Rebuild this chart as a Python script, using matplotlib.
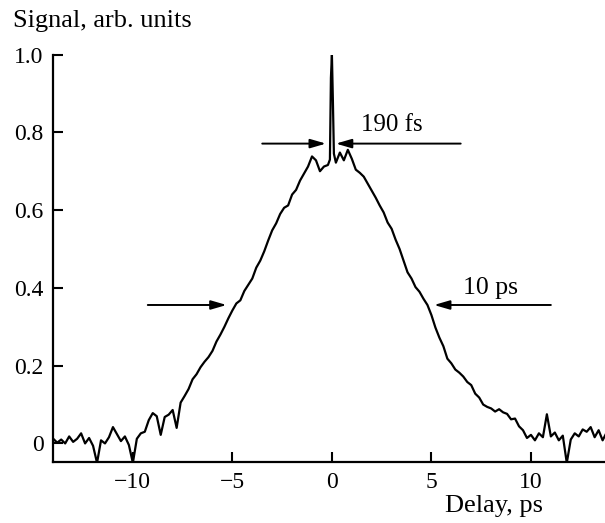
import numpy as np
import matplotlib.pyplot as plt

# delay (ps) and signal (arb. units)
delay = [-14.0, -13.8, -13.6, -13.4, -13.2, -13.0, -12.8, -12.6, -12.4, -12.2,
         -12.0, -11.8, -11.6, -11.4, -11.2, -11.0, -10.8, -10.6, -10.4, -10.2,
         -10.0, -9.8, -9.6, -9.4, -9.2, -9.0, -8.8, -8.6, -8.4, -8.2,
         -8.0, -7.8, -7.6, -7.4, -7.2, -7.0, -6.8, -6.6, -6.4, -6.2,
         -6.0, -5.8, -5.6, -5.4, -5.2, -5.0, -4.8, -4.6, -4.4, -4.2,
         -4.0, -3.8, -3.6, -3.4, -3.2, -3.0, -2.8, -2.6, -2.4, -2.2,
         -2.0, -1.8, -1.6, -1.4, -1.2, -1.0, -0.8, -0.6, -0.4, -0.2,
         -0.1, -0.05, 0.0, 0.05, 0.1,
         0.2, 0.4, 0.6, 0.8, 1.0, 1.2, 1.4, 1.6, 1.8, 2.0,
         2.2, 2.4, 2.6, 2.8, 3.0, 3.2, 3.4, 3.6, 3.8, 4.0,
         4.2, 4.4, 4.6, 4.8, 5.0, 5.2, 5.4, 5.6, 5.8, 6.0,
         6.2, 6.4, 6.6, 6.8, 7.0, 7.2, 7.4, 7.6, 7.8, 8.0,
         8.2, 8.4, 8.6, 8.8, 9.0, 9.2, 9.4, 9.6, 9.8, 10.0,
         10.2, 10.4, 10.6, 10.8, 11.0, 11.2, 11.4, 11.6, 11.8, 12.0,
         12.2, 12.4, 12.6, 12.8, 13.0, 13.2, 13.4, 13.6, 13.8]
signal = [0.012, 0.002, 0.010, 0.000, 0.018, 0.004, 0.012, 0.026, 0.000, 0.014,
          -0.006, -0.050, 0.008, 0.000, 0.016, 0.042, 0.024, 0.006, 0.018, -0.004,
          -0.050, 0.012, 0.026, 0.030, 0.060, 0.078, 0.070, 0.022, 0.068, 0.074,
          0.086, 0.040, 0.105, 0.122, 0.140, 0.165, 0.178, 0.196, 0.210, 0.222,
          0.238, 0.262, 0.280, 0.300, 0.322, 0.342, 0.360, 0.368, 0.392, 0.408,
          0.424, 0.452, 0.470, 0.494, 0.522, 0.548, 0.566, 0.590, 0.606, 0.612,
          0.640, 0.652, 0.676, 0.694, 0.712, 0.738, 0.728, 0.700, 0.712, 0.716,
          0.730, 0.940, 1.000, 0.880, 0.745,
          0.722, 0.748, 0.728, 0.755, 0.732, 0.704, 0.696, 0.686, 0.668, 0.650,
          0.632, 0.612, 0.594, 0.568, 0.552, 0.524, 0.500, 0.470, 0.440, 0.424,
          0.402, 0.390, 0.372, 0.356, 0.330, 0.298, 0.272, 0.250, 0.218, 0.206,
          0.190, 0.182, 0.172, 0.158, 0.150, 0.128, 0.118, 0.100, 0.094, 0.090,
          0.082, 0.088, 0.080, 0.076, 0.062, 0.064, 0.044, 0.034, 0.014, 0.022,
          0.008, 0.026, 0.016, 0.075, 0.018, 0.028, 0.008, 0.020, -0.050, 0.010,
          0.026, 0.018, 0.036, 0.030, 0.042, 0.016, 0.034, 0.008, 0.028]

xticks = [-10, -5, 0, 5, 10]
xtick_labels = ["\u221210", "\u22125", "0", "5", "10"]
yticks = [0, 0.2, 0.4, 0.6, 0.8, 1.0]
ytick_labels = ["0", "0.2", "0.4", "0.6", "0.8", "1.0"]

plt.rcParams['font.family'] = ['Liberation Serif', 'DejaVu Serif']
plt.rcParams['font.size'] = 17

fig = plt.figure(figsize=(6.05, 5.23), dpi=100)
ax = fig.add_axes([0.088, 0.1157, 0.912, 0.780])

ax.plot(delay, signal, color='black', lw=1.6)

ax.set_xlim(-14.0, 13.72)
ax.set_ylim(-0.049, 1.0)
ax.set_xticks(xticks)
ax.set_xticklabels(xtick_labels)
ax.set_yticks(yticks)
ax.set_yticklabels(ytick_labels)

for s in ['top', 'right']:
    ax.spines[s].set_visible(False)
for s in ['left', 'bottom']:
    ax.spines[s].set_linewidth(1.6)
ax.tick_params(direction='in', length=7, width=1.5, pad=7, labelsize=17)

# FWHM markers
arr = dict(arrowstyle='-|>,head_length=0.55,head_width=0.16', color='black',
           lw=1.4, shrinkA=0, shrinkB=0)
ax.annotate('', xy=(-0.30, 0.771), xytext=(-3.5, 0.771), arrowprops=arr)
ax.annotate('', xy=(0.20, 0.771), xytext=(6.47, 0.771), arrowprops=arr)
ax.text(3.02, 0.819, "190 fs", ha='center', va='center', fontsize=18)

ax.annotate('', xy=(-5.29, 0.356), xytext=(-9.25, 0.356), arrowprops=arr)
ax.annotate('', xy=(5.13, 0.356), xytext=(11.0, 0.356), arrowprops=arr)
ax.text(7.95, 0.40, "10 ps", ha='center', va='center', fontsize=18.5)

fig.text(13 / 605, 1 - 27 / 523, "Signal, arb. units", ha='left', va='baseline', fontsize=19)
fig.text(445 / 605, 11 / 523, "Delay, ps", ha='left', va='baseline', fontsize=19)

fig.savefig("out.png", dpi=100)
